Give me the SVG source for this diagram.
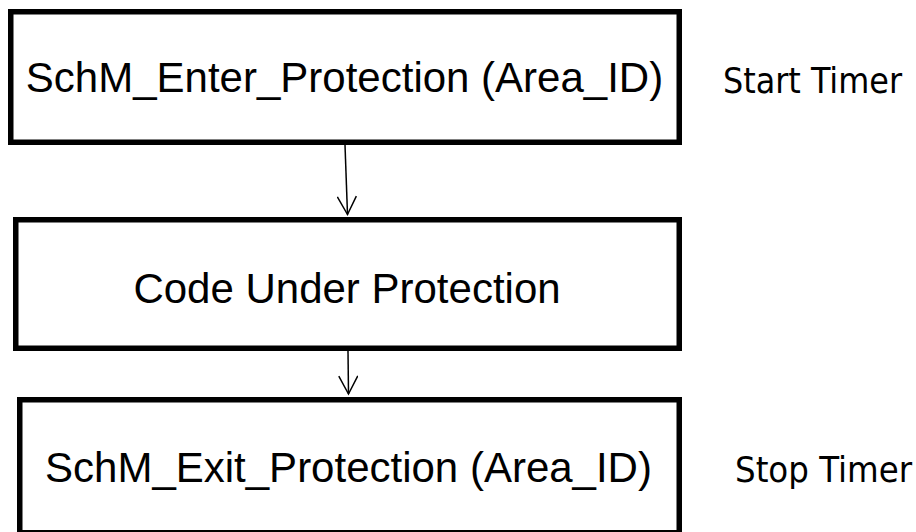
<svg xmlns="http://www.w3.org/2000/svg" width="916" height="532" viewBox="0 0 916 532">
<style>
.box{fill:#fff;stroke:#000;stroke-width:5.5}
.lbl{font-family:"Liberation Sans",Arial,sans-serif;font-size:42px;fill:#000;text-anchor:middle}
.note{font-family:"DejaVu Sans Condensed","DejaVu Sans",sans-serif;font-stretch:condensed;font-size:35px;fill:#000}
.conn{fill:none;stroke:#000;stroke-width:1.5}
</style>
<defs>
<marker id="arr" viewBox="0 0 24 20" refX="20" refY="10" markerWidth="24" markerHeight="20" markerUnits="userSpaceOnUse" orient="auto">
<path d="M2,0.5 L20,10 L2,19.5" fill="none" stroke="#000" stroke-width="1.5"/>
</marker>
</defs>
<rect width="916" height="532" fill="#fff"/>
<g id="enter">
<rect class="box" x="10.75" y="11.75" width="668.5" height="130.5"/>
<text class="lbl" x="344.5" y="92">SchM_Enter_Protection (Area_ID)</text>
</g>
<g id="code">
<rect class="box" x="15.75" y="219.75" width="663.5" height="128.5"/>
<text class="lbl" x="347" y="303">Code Under Protection</text>
</g>
<g id="exit">
<rect class="box" x="19.75" y="399.75" width="659.5" height="133"/>
<text class="lbl" x="348.5" y="482">SchM_Exit_Protection (Area_ID)</text>
</g>
<g id="start-timer">
<text class="note" x="723" y="93" textLength="179" lengthAdjust="spacingAndGlyphs">Start Timer</text>
</g>
<g id="stop-timer">
<text class="note" x="735" y="482" textLength="177" lengthAdjust="spacingAndGlyphs">Stop Timer</text>
</g>
<g id="connectors">
<line class="conn" x1="345" y1="145" x2="347.5" y2="214.5" marker-end="url(#arr)"/>
<line class="conn" x1="348" y1="351" x2="348.5" y2="394" marker-end="url(#arr)"/>
</g>
</svg>
